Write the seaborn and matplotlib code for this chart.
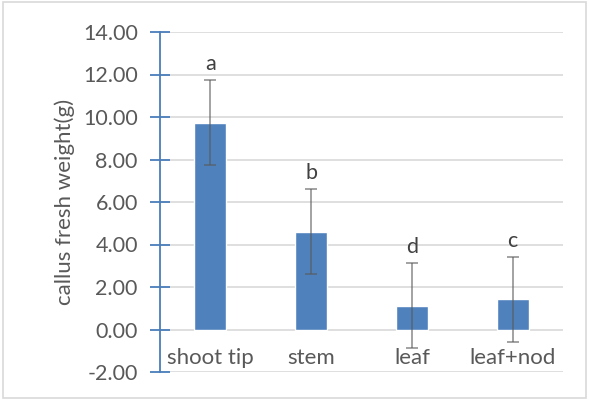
import matplotlib
matplotlib.use("Agg")
import matplotlib.pyplot as plt
import seaborn as sns
import pandas as pd
from matplotlib.patches import Rectangle

categories = ["shoot tip", "stem", "leaf", "leaf+nod"]
means = [9.73, 4.60, 1.11, 1.43]
errors = [2.0, 2.0, 2.0, 2.0]
letters = ["a", "b", "d", "c"]
yticks = [-2, 0, 2, 4, 6, 8, 10, 12, 14]

sns.set_theme(style="white")
plt.rcParams['font.family'] = ['Lato', 'DejaVu Sans']

df = pd.DataFrame({"cat": categories, "val": means})

fig = plt.figure(figsize=(5.89, 4.0), dpi=100)
ax = fig.add_axes([0.2716, 0.07, 0.956 - 0.2716, 0.85])

sns.barplot(data=df, x="cat", y="val", color="#4F81BD", width=0.32,
            saturation=1, errorbar=None, ax=ax, zorder=3)

ax.errorbar(range(len(categories)), means, yerr=errors, fmt="none",
            ecolor="#595959", elinewidth=1.3, capsize=4.5, capthick=1.3,
            alpha=0.6, zorder=4)

ax.set_ylim(-2, 14)
ax.set_xlim(-0.5, len(categories) - 0.5)
ax.set_yticks(yticks)
ax.set_yticklabels([f"{v:.2f}" for v in yticks], fontsize=15.5, color="#595959")
ax.yaxis.grid(True, color="#d9d9d9", linewidth=1.2, zorder=0)
ax.set_axisbelow(True)

ax.set_xticks([])
ax.set_xlabel("")
ax.set_ylabel("callus fresh weight(g)", fontsize=16, color="#595959", labelpad=6)

for s in ["top", "right", "bottom"]:
    ax.spines[s].set_visible(False)
ax.spines["left"].set_color("#4a7ebb")
ax.spines["left"].set_linewidth(1.3)
ax.tick_params(axis="y", which="major", direction="inout", length=14,
               width=1.3, color="#4a7ebb", pad=9, left=True)

for i, c in enumerate(categories):
    ax.text(i, -1.32, c, ha="center", va="center", fontsize=16, color="#595959")

for i, (m, e, l) in enumerate(zip(means, errors, letters)):
    ax.text(i, m + e + 0.75, l, ha="center", va="center", fontsize=15.5, color="#404040")

fig.patches.append(Rectangle((0.005, 0.005), 0.99, 0.99, transform=fig.transFigure,
                             fill=False, edgecolor="#d9d9d9", linewidth=1.2))

fig.savefig("out.png", dpi=100)
